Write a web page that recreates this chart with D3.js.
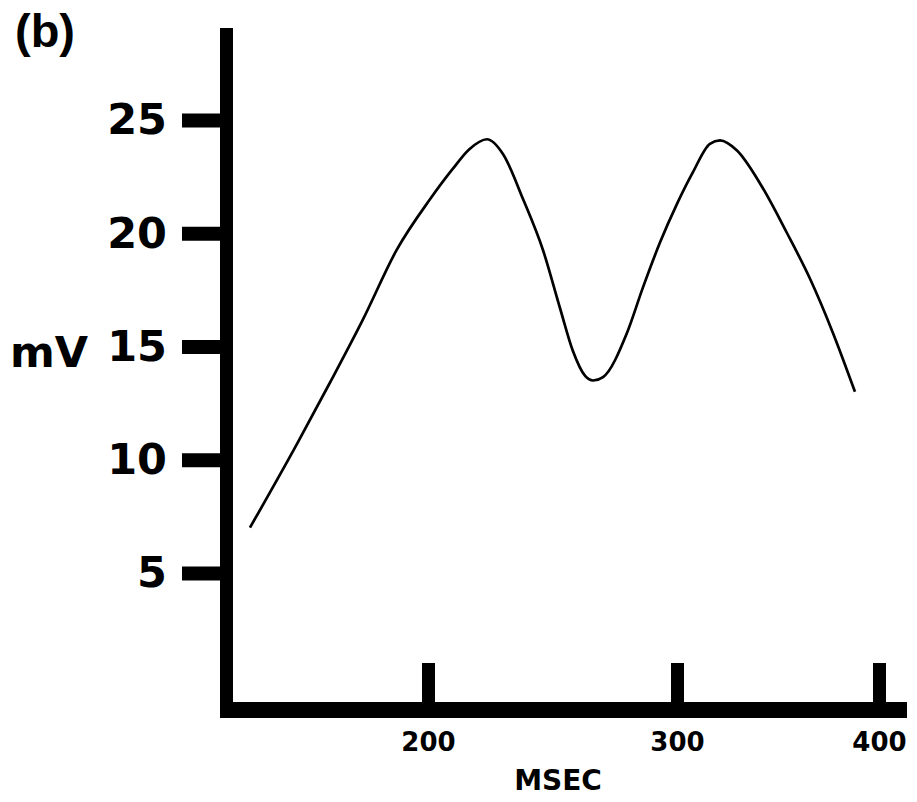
<!DOCTYPE html>
<html>
<head>
<meta charset="utf-8">
<script src="https://cdnjs.cloudflare.com/ajax/libs/d3/7.8.5/d3.min.js"></script>
<style>
  body { margin: 0; background: #fff; }
  svg { display: block; }
</style>
</head>
<body>
<svg id="chart" width="917" height="802"></svg>
<script>
// values (time in msec, potential in mV)
var msec = [128.5, 147.4, 160.6, 173.9, 187.6, 200.8, 210.0, 216.5, 223.7, 230.1,
            238.2, 246.2, 253.0, 258.2, 263.1, 266.3, 270.3, 279.9, 286.3, 293.2,
            300.0, 307.9, 316.3, 321.3, 329.7, 341.1, 354.5, 365.8, 377.2, 388.1];
var mv = [7.0, 10.7, 13.4, 16.2, 19.3, 21.5, 22.85, 23.7, 24.15, 23.5,
          21.5, 19.25, 16.7, 14.8, 13.7, 13.5, 13.65, 15.6, 17.6, 19.6,
          21.3, 22.7, 23.95, 24.1, 23.65, 22.2, 20.0, 18.0, 15.6, 13.0];
var xTicks = [200, 300, 400];
var yTicks = [5, 10, 15, 20, 25];

var svg = d3.select('#chart');

// hand drawn axis: the 200-300 gap is wider than 300-400
var x = d3.scaleLinear().domain([200, 300, 400]).range([428, 677, 879]);
var y = d3.scaleLinear().domain([5, 25]).range([573, 120]);

var axisX = 226.5, axisY = 710;
var frameLeft = 220, frameRight = 907, frameTop = 28, frameBottom = 718;

var data = msec.map((m, i) => ({ t: m, v: mv[i] }));

var line = d3.line()
  .x(d => x(d.t))
  .y(d => y(d.v))
  .curve(d3.curveMonotoneX);

svg.append('path')
   .datum(data)
   .attr('d', line)
   .attr('fill', 'none')
   .attr('stroke', '#000')
   .attr('stroke-width', 2.7)
   .attr('stroke-linejoin', 'round');

// y axis
var gy = svg.append('g')
  .attr('transform', `translate(${axisX},0)`)
  .call(d3.axisLeft(y).tickValues(yTicks).tickSizeInner(44.5).tickSizeOuter(0).tickPadding(15))
  .attr('font-family', '"DejaVu Sans", sans-serif')
  .attr('font-weight', 700)
  .attr('font-size', 43);
gy.select('.domain').remove();
gy.selectAll('.tick line').attr('stroke-width', 14);

// x axis, ticks point up into the plot
var gx = svg.append('g')
  .attr('transform', `translate(0,${axisY})`)
  .call(d3.axisBottom(x).tickValues(xTicks).tickSizeInner(-47).tickSizeOuter(0).tickPadding(23))
  .attr('font-family', '"DejaVu Sans", sans-serif')
  .attr('font-weight', 700)
  .attr('font-size', 26);
gx.select('.domain').remove();
gx.selectAll('.tick line').attr('stroke-width', 13);

svg.append('line')
   .attr('x1', axisX).attr('x2', axisX)
   .attr('y1', frameTop).attr('y2', frameBottom)
   .attr('stroke', '#000')
   .attr('stroke-width', 13);

svg.append('line')
   .attr('x1', frameLeft).attr('x2', frameRight)
   .attr('y1', axisY).attr('y2', axisY)
   .attr('stroke', '#000')
   .attr('stroke-width', 16);

svg.append('text')
   .attr('x', 10)
   .attr('y', 367)
   .attr('font-family', '"DejaVu Sans", sans-serif')
   .attr('font-weight', 700)
   .attr('font-size', 43)
   .text('mV');

svg.append('text')
   .attr('x', 558)
   .attr('y', 790)
   .attr('text-anchor', 'middle')
   .attr('font-family', '"DejaVu Sans", sans-serif')
   .attr('font-weight', 700)
   .attr('font-size', 28)
   .text('MSEC');

svg.append('text')
   .attr('x', 15)
   .attr('y', 47)
   .attr('font-family', '"Liberation Sans", Arial, sans-serif')
   .attr('font-weight', 700)
   .attr('font-size', 47)
   .text('(b)');
</script>
</body>
</html>
